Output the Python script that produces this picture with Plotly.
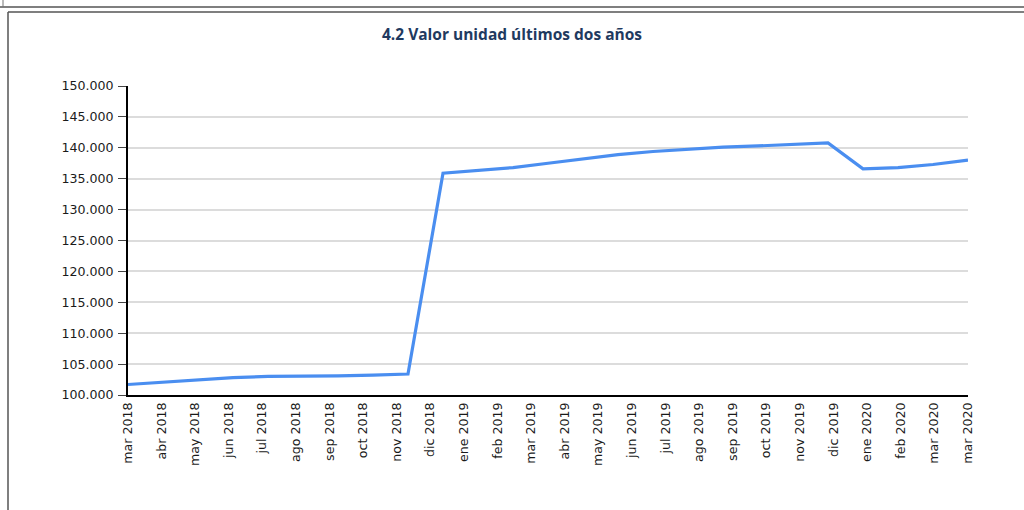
import plotly.graph_objects as go

# Data (monthly unit value)
months = ["mar 2018", "abr 2018", "may 2018", "jun 2018", "jul 2018", "ago 2018",
          "sep 2018", "oct 2018", "nov 2018", "dic 2018", "ene 2019", "feb 2019",
          "mar 2019", "abr 2019", "may 2019", "jun 2019", "jul 2019", "ago 2019",
          "sep 2019", "oct 2019", "nov 2019", "dic 2019", "ene 2020", "feb 2020",
          "mar 2020"]
values = [101700, 102100, 102500, 102800, 103000, 103000, 103100, 103200, 103400,
          135900, 136300, 136800, 137500, 138200, 138900, 139400, 139800, 140100,
          140300, 140500, 140800, 136600, 136800, 137300, 138000]

# Axis labels as shown (26 labels under the chart)
tick_labels = ["mar 2018", "abr 2018", "may 2018", "jun 2018", "jul 2018", "ago 2018",
               "sep 2018", "oct 2018", "nov 2018", "dic 2018", "ene 2019", "feb 2019",
               "mar 2019", "abr 2019", "may 2019", "jun 2019", "jul 2019", "ago 2019",
               "sep 2019", "oct 2019", "nov 2019", "dic 2019", "ene 2020", "feb 2020",
               "mar 2020", "mar 2020"]
y_ticks = [100000, 105000, 110000, 115000, 120000, 125000, 130000, 135000,
           140000, 145000, 150000]

W, H = 1024, 510
L, R, T, B = 128, 56, 86, 115
pw, ph = W - L - R, H - T - B

def px(x):
    return (x - L) / pw

def py(y):
    return (H - B - y) / ph

fig = go.Figure()
fig.add_trace(go.Scatter(
    x=months, y=values, mode="lines",
    line=dict(color="#4a8ef0", width=3.2),
    showlegend=False, hoverinfo="x+y"))
fig.add_trace(go.Scatter(
    x=[0, len(tick_labels) - 1], y=[None, None], xaxis="x2",
    mode="lines", showlegend=False, hoverinfo="skip"))

tick_font = dict(family="DejaVu Sans", size=12.6, color="#1a1a1a")

fig.update_layout(
    width=W, height=H,
    margin=dict(l=L, r=R, t=T, b=B),
    paper_bgcolor="white", plot_bgcolor="white",
    separators=",.",
    title=dict(text="<b>4.2 Valor unidad últimos dos años</b>",
               x=0.5, xanchor="center", xref="container",
               y=1 - 35 / H, yanchor="middle", yref="container",
               font=dict(family="Open Sans", size=15.5, color="#1f3a5f")),
    xaxis=dict(type="category", range=[0, len(months) - 1],
               showticklabels=False, ticks="", showgrid=False,
               showline=True, linecolor="black", linewidth=2, zeroline=False),
    xaxis2=dict(overlaying="x", anchor="y", side="bottom",
                range=[0, len(tick_labels) - 1],
                tickmode="array", tickvals=list(range(len(tick_labels))),
                ticktext=tick_labels, tickangle=-90, tickfont=tick_font,
                ticks="", showgrid=False, showline=False, zeroline=False,
                ticklabelstandoff=4),
    yaxis=dict(range=[100000, 150000], tickmode="array", tickvals=y_ticks,
               tickformat=",d", tickfont=tick_font,
               ticks="outside", ticklen=8, tickwidth=1, tickcolor="#444444",
               showgrid=True, gridcolor="#dcdcdc", gridwidth=2,
               showline=True, linecolor="black", linewidth=2, zeroline=False,
               ticklabelstandoff=2),
    shapes=[
        dict(type="line", xref="paper", yref="paper",
             x0=px(0), x1=px(W), y0=py(7), y1=py(7),
             line=dict(color="#555555", width=1.5)),
        dict(type="line", xref="paper", yref="paper",
             x0=px(3), x1=px(3), y0=py(0), y1=py(7),
             line=dict(color="#777777", width=1)),
        dict(type="line", xref="paper", yref="paper",
             x0=px(8), x1=px(W), y0=py(12), y1=py(12),
             line=dict(color="#555555", width=1.5)),
        dict(type="line", xref="paper", yref="paper",
             x0=px(8), x1=px(8), y0=py(12), y1=py(H),
             line=dict(color="#555555", width=1.5)),
    ],
)

fig.write_html("out.html",
               config={"displayModeBar": False},
               post_script="document.body.style.margin='0';"
                           "document.body.style.overflow='hidden';")
